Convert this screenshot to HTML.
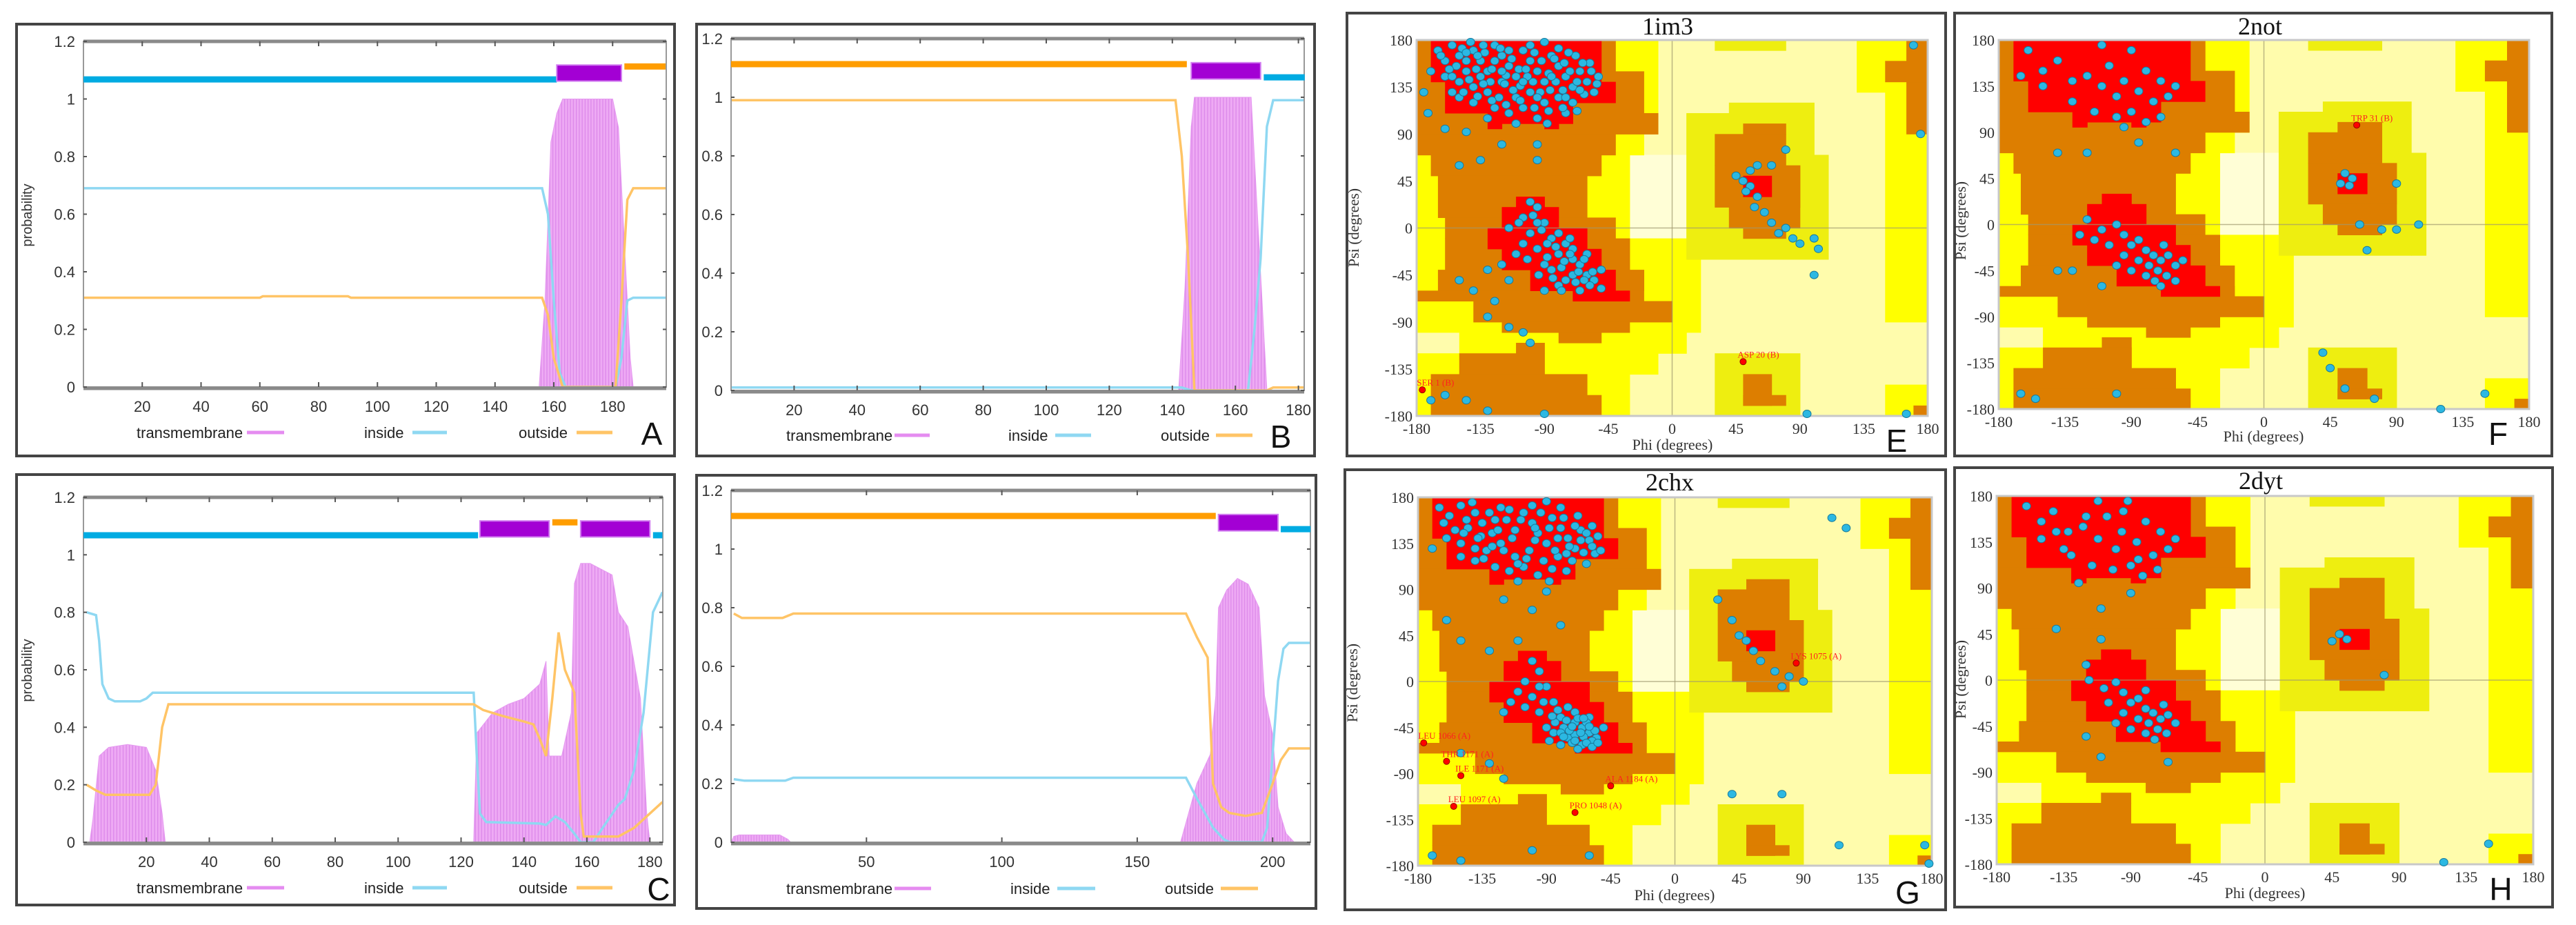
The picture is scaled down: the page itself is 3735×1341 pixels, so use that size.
<!DOCTYPE html>
<html><head><meta charset="utf-8"><style>
html,body{margin:0;padding:0;background:#fff;width:3735px;height:1341px;overflow:hidden}
svg{display:block}
.sans{font-family:"Liberation Sans",sans-serif}
.serif{font-family:"Liberation Serif",serif}
</style></head><body>
<svg id="fig" width="3735" height="1341" viewBox="0 0 3735 1341" xmlns="http://www.w3.org/2000/svg">
<defs>
<pattern id="tmpatA" patternUnits="userSpaceOnUse" width="4.26" height="10"><rect width="4.26" height="10" fill="#eeaaf4"/><rect width="1.3" height="10" fill="#dc88ea"/></pattern>
<pattern id="tmpatB" patternUnits="userSpaceOnUse" width="4.57" height="10"><rect width="4.57" height="10" fill="#eeaaf4"/><rect width="1.3" height="10" fill="#dc88ea"/></pattern>
<pattern id="tmpatC" patternUnits="userSpaceOnUse" width="4.56" height="10"><rect width="4.56" height="10" fill="#eeaaf4"/><rect width="1.3" height="10" fill="#dc88ea"/></pattern>
<pattern id="tmpatD" patternUnits="userSpaceOnUse" width="3.93" height="10"><rect width="3.93" height="10" fill="#eeaaf4"/><rect width="1.2" height="10" fill="#dc88ea"/></pattern>
</defs>
<rect x="24" y="35" width="954" height="626" fill="#fff" stroke="#444" stroke-width="4"/>
<rect x="1010" y="35" width="896" height="626" fill="#fff" stroke="#444" stroke-width="4"/>
<rect x="24" y="688" width="954" height="624" fill="#fff" stroke="#444" stroke-width="4"/>
<rect x="1010" y="689" width="898" height="628" fill="#fff" stroke="#444" stroke-width="4"/>
<rect x="1953" y="19" width="868" height="642" fill="#fff" stroke="#444" stroke-width="4"/>
<rect x="2834" y="19" width="866" height="642" fill="#fff" stroke="#444" stroke-width="4"/>
<rect x="1950" y="681" width="871" height="638" fill="#fff" stroke="#444" stroke-width="4"/>
<rect x="2834" y="678" width="867" height="637" fill="#fff" stroke="#444" stroke-width="4"/>
<g id="layer"></g>
<g class="sans" font-size="20" fill="#333">
<text x="46" y="312" transform="rotate(-90 46 312)" text-anchor="middle">probability</text>
<text x="46" y="972" transform="rotate(-90 46 972)" text-anchor="middle">probability</text>
</g>
<g class="sans" font-size="46" fill="#111">
<text x="945" y="645" text-anchor="middle">A</text>
<text x="1857" y="649" text-anchor="middle">B</text>
<text x="955" y="1305" text-anchor="middle">C</text>
<text x="2750" y="655" text-anchor="middle">E</text>
<text x="3622" y="645" text-anchor="middle">F</text>
<text x="2766" y="1310" text-anchor="middle">G</text>
<text x="3626" y="1305" text-anchor="middle">H</text>
</g>
<g class="serif" font-size="36" fill="#111" text-anchor="middle">
<text x="2418" y="50">1im3</text>
<text x="3277" y="50">2not</text>
<text x="2421" y="711">2chx</text>
<text x="3278" y="709">2dyt</text>
</g>
<g class="serif" font-size="22" fill="#333" text-anchor="middle">
<text x="2425" y="652">Phi (degrees)</text>
<text x="3282" y="640">Phi (degrees)</text>
<text x="2428" y="1305">Phi (degrees)</text>
<text x="3284" y="1302">Phi (degrees)</text>
<text x="1970" y="330" transform="rotate(-90 1970 330)">Psi (degrees)</text>
<text x="2850" y="320" transform="rotate(-90 2850 320)">Psi (degrees)</text>
<text x="1968" y="990" transform="rotate(-90 1968 990)">Psi (degrees)</text>
<text x="2850" y="985" transform="rotate(-90 2850 985)">Psi (degrees)</text>
</g>
</svg>
<script>
const aTM=[[0,0],[155,0],[157,0.3],[159,0.85],[161,0.95],[163,1],[180,1],[182,0.9],[184,0.5],[186,0.1],[187,0],[198,0]];
const aIn=[[0,0.69],[156,0.69],[158,0.6],[160,0.3],[162,0.05],[164,0],[181,0],[183,0.1],[185,0.3],[187,0.31],[198,0.31]];
const aOut=[[0,0.31],[60,0.31],[61,0.315],[90,0.315],[91,0.31],[156,0.31],[158,0.25],[160,0.1],[163,0],[181,0],[183,0.3],[185,0.65],[187,0.69],[198,0.69]];
const aBars=[['in',0,161],['tm',161,183],['out',184,198]];
const bTM=[[0,0],[142,0],[144,0.35],[146,0.9],[147,1],[165,1],[167,0.6],[169,0.2],[170,0],[182,0]];
const bIn=[[0,0.01],[143,0.01],[146,0],[164,0],[166,0.2],[168,0.45],[170,0.9],[172,0.99],[182,0.99]];
const bOut=[[0,0.99],[141,0.99],[143,0.8],[145,0.45],[147,0],[170,0],[172,0.01],[182,0.01]];
const bBars=[['out',0,144.6],['tm',146,168],['in',169,182]];
const cTM=[[0,0],[2,0],[3,0.08],[5,0.3],[8,0.33],[14,0.34],[20,0.33],[23,0.25],[25,0.1],[26,0],[124,0],[125,0.38],[130,0.45],[135,0.48],[140,0.5],[145,0.55],[147,0.63],[148,0.3],[152,0.3],[155,0.45],[156,0.9],[158,0.97],[161,0.97],[168,0.93],[170,0.8],[173,0.75],[177,0.5],[179,0.1],[180,0],[184,0]];
const cIn=[[1,0.8],[4,0.79],[5,0.7],[6,0.55],[8,0.5],[10,0.49],[18,0.49],[20,0.5],[22,0.52],[124,0.52],[125,0.3],[126,0.1],[128,0.07],[145,0.065],[147,0.06],[150,0.09],[153,0.07],[156,0.03],[158,0],[162,0],[165,0.05],[170,0.13],[172,0.15],[175,0.25],[178,0.45],[181,0.8],[184,0.87]];
const cOut=[[1,0.2],[4,0.18],[7,0.165],[21,0.165],[23,0.2],[25,0.4],[27,0.48],[124,0.48],[127,0.46],[133,0.44],[140,0.42],[143,0.41],[145,0.36],[147,0.3],[149,0.5],[151,0.73],[153,0.6],[156,0.52],[158,0.1],[159,0.02],[170,0.02],[175,0.05],[180,0.1],[184,0.14]];
const cBars=[['in',0,125.4],['tm',126,148],['out',149,157],['tm',158,180],['in',181,184]];
const dTM=[[0,0],[1,0.02],[3,0.025],[18,0.025],[21,0.01],[22,0],[166,0],[169,0.1],[172,0.2],[177,0.3],[179,0.5],[180,0.8],[183,0.86],[187,0.9],[191,0.88],[195,0.8],[197,0.5],[200,0.37],[202,0.12],[205,0.03],[208,0],[214,0]];
const dIn=[[1,0.215],[5,0.21],[20,0.21],[23,0.22],[168,0.22],[172,0.15],[178,0.05],[182,0.01],[184,0],[196,0],[198,0.05],[200,0.3],[202,0.55],[204,0.66],[206,0.68],[214,0.68]];
const dOut=[[1,0.78],[4,0.765],[19,0.765],[23,0.78],[168,0.78],[172,0.7],[176,0.63],[178,0.2],[181,0.12],[184,0.1],[190,0.09],[196,0.1],[200,0.2],[203,0.28],[206,0.32],[214,0.32]];
const dBars=[['out',0,179],['tm',180,202],['in',203,214]];
const xTicks20=[20,40,60,80,100,120,140,160,180];
const xTicks50=[50,100,150,200];
const yTicks=[0,0.2,0.4,0.6,0.8,1,1.2];
const yTickLabels=['0','0.2','0.4','0.6','0.8','1','1.2'];

const regPaleBox=[[-30,10,-10,70]];
const regYellow=[[-180,-10,90,180],[-180,-20,70,90],[-180,-30,-10,70],[-180,20,-100,-10],[-150,10,-120,-100],[-180,-10,-140,-120],[-180,-30,-180,-140],[130,180,130,180],[150,180,-90,130],[150,180,-180,-150]];
const regDark=[[10,100,-30,110],[40,100,110,120],[100,110,-30,70],[30,80,170,180],[30,90,-180,-120]];
const regBrown=[[-180,-40,150,180],[-180,-20,110,150],[-180,-10,90,110],[-180,-40,70,90],[-170,-50,50,70],[-165,-60,10,50],[-160,-40,-10,10],[-160,-30,-40,-10],[-165,-20,-60,-40],[-180,-20,-70,-60],[-140,0,-90,-70],[-120,-30,-100,-90],[-80,-50,-110,-100],[-110,-90,-120,-110],[-150,-90,-140,-120],[-170,-60,-160,-140],[-170,-50,-180,-160],[50,80,90,100],[30,80,60,90],[30,90,20,60],[40,90,0,20],[50,80,-10,0],[50,70,-170,-140],[50,80,-170,-160],[165,180,90,180],[150,180,140,160],[170,180,-180,-170]];
const regRed=[[-170,-50,140,180],[-160,-40,120,140],[-160,-70,110,120],[-130,-70,100,110],[-130,-120,95,100],[-90,-80,95,100],[-110,-90,20,30],[-120,-80,0,20],[-130,-60,-20,0],[-120,-50,-40,-20],[-100,-40,-60,-40],[-70,-30,-70,-60],[50,70,30,50]];
const ramaTicks=[-180,-135,-90,-45,0,45,90,135,180];

const ePts=[[-165,170],[-160,160],[-155,175],[-150,165],[-145,150],[-140,170],[-135,160],[-130,150],[-125,175],[-120,165],[-115,155],[-110,145],[-105,170],[-100,160],[-95,150],[-90,140],[-85,165],[-80,155],[-75,145],[-70,135],[-65,150],[-60,140],[-55,130],[-160,145],[-150,140],[-140,135],[-130,130],[-120,140],[-110,125],[-100,130],[-90,120],[-80,125],[-70,120],[-140,120],[-125,115],[-115,110],[-105,115],[-95,105],[-150,125],[-135,145],[-145,160],[-125,160],[-115,170],[-100,175],[-90,178],[-80,172],[-68,165],[-58,158],[-52,145],[-62,128],[-75,110],[-88,100],[-110,100],[-130,105],[-155,130],[-170,150],[-172,110],[-160,95],[-145,92],[-118,138],[-108,152],[-98,140],[-86,132],[-76,158],[-132,168],[-142,178],[-152,155],[-128,140],[-112,132],[-92,160],[-82,140],[-72,150],[-138,152],[-122,125],[-102,145],
[-163,165],[-157,152],[-148,172],[-143,142],[-137,165],[-133,138],[-127,152],[-121,172],[-117,146],[-113,162],[-107,136],[-103,152],[-97,168],[-93,130],[-87,148],[-83,162],[-77,132],[-73,168],[-67,140],[-63,158],[-57,150],[-53,138],[-147,130],[-137,126],[-127,122],[-117,118],[-107,122],[-97,115],[-87,112],[-77,115],[-67,112],[-155,145],[-145,168],[-133,175],[-120,150],[-105,140],[-95,125],[-85,145],[-75,125],[-65,132],
[-175,130],[-150,60],[-135,65],[-120,80],[-95,80],[-95,65],[-170,-165],[-160,-160],[-145,-165],[-130,-175],[-90,-178],[-130,-85],[-115,-95],[-105,-100],[-100,-110],[-150,-50],[-140,-60],[-125,-70],
[-100,25],[-95,20],[-105,10],[-90,5],[-115,0],[-100,-5],[-85,-10],[-75,-15],[-95,-20],[-80,-25],[-70,-30],[-65,-35],[-85,-40],[-60,-45],[-75,-50],[-55,-50],[-90,-35],[-105,-15],[-110,-25],[-70,-45],[-80,-55],[-65,-60],[-60,-25],[-50,-40],[-95,5],[-120,-35],[-130,-40],[-115,-50],[-90,-60],[-80,-5],[-70,-20],[-62,-30],[-58,-55],[-50,-58],[-88,-28],[-78,-38],[-68,-52],
[-98,12],[-92,-2],[-88,-15],[-82,-18],[-76,-32],[-72,-25],[-66,-42],[-62,-50],[-56,-42],[-84,-48],[-78,-60],[-94,-45],[-102,-30],[-108,5],[-72,-10],
[45,50],[50,45],[55,40],[52,35],[60,30],[58,20],[65,15],[70,5],[75,-5],[80,0],[85,-10],[90,-15],[100,-10],[103,-20],[60,60],[55,55],[80,75],[70,60],[100,-45],[95,-178],[165,-178],[170,175],[175,90]];
const fPts=[[-160,170],[-150,150],[-140,160],[-130,140],[-120,145],[-110,135],[-105,155],[-100,125],[-95,140],[-90,110],[-85,130],[-80,150],[-75,120],[-70,140],[-65,125],[-60,135],[-90,170],[-110,175],[-130,120],[-115,110],[-100,105],[-80,100],[-70,105],[-150,135],[-165,145],[-95,95],[-85,80],[-60,70],[-140,70],[-120,70],[-165,-165],[-155,-170],[-100,-165],
[-120,5],[-110,-5],[-100,0],[-95,-10],[-90,-20],[-85,-15],[-80,-25],[-75,-30],[-70,-35],[-78,-40],[-72,-45],[-68,-20],[-65,-30],[-60,-40],[-85,-35],[-95,-30],[-105,-20],[-115,-15],[-125,-10],[-80,-50],[-74,-55],[-66,-50],[-55,-35],[-90,-45],[-100,-40],[-140,-45],[-130,-45],[-110,-60],[-70,-60],[-60,-55],
[55,50],[52,40],[60,45],[58,38],[65,0],[80,-5],[105,0],[90,-5],[90,40],[70,-25],[45,-140],[55,-160],[75,-170],[120,-180],[150,-165],[40,-125]];
const gPts=[[-165,170],[-158,162],[-150,172],[-145,150],[-140,165],[-135,155],[-128,145],[-122,170],[-118,158],[-112,148],[-106,165],[-100,155],[-96,145],[-90,135],[-86,160],[-80,150],[-75,140],[-70,130],[-66,148],[-60,138],[-56,125],[-160,140],[-150,135],[-140,130],[-132,128],[-122,135],[-112,122],[-102,128],[-92,118],[-82,122],[-72,118],[-140,118],[-126,112],[-116,108],[-106,112],[-96,104],[-150,122],[-136,142],[-146,158],[-126,158],[-116,168],[-100,172],[-90,176],[-80,170],[-68,162],[-58,152],[-54,142],[-64,126],[-76,108],[-88,98],[-110,98],[-170,130],[-90,88],[-120,80],[-100,70],[-80,55],[-160,60],[-150,40],[-130,30],[-110,40],
[-162,155],[-154,148],[-142,175],[-138,140],[-130,165],[-124,148],[-120,128],[-114,140],[-108,158],[-104,120],[-98,138],[-94,165],[-88,150],[-84,128],[-78,160],[-74,132],[-70,152],[-62,145],[-58,132],[-52,128],[-134,120],[-110,115],[-86,110],[-62,115],[-148,145],[-128,132],[-98,150],[-82,140],[-76,125],[-66,138],
[-100,20],[-95,10],[-105,0],[-90,-5],[-110,-10],[-100,-15],[-85,-20],[-75,-25],[-95,-30],[-80,-35],[-70,-40],[-65,-45],[-85,-50],[-60,-50],[-75,-55],[-55,-55],[-90,-45],[-105,-25],[-115,-20],[-70,-52],[-80,-62],[-65,-62],[-60,-35],[-50,-45],[-95,-5],[-120,-30],[-70,-30],[-62,-40],[-58,-58],[-78,-45],[-72,-60],[-68,-36],[-84,-40],[-64,-54],[-74,-48],[-56,-48],[-88,-58],
[-76,-38],[-72,-44],[-66,-50],[-62,-60],[-68,-66],[-58,-64],[-54,-60],[-80,-50],[-86,-34],[-92,-20],[-82,-28],[-78,-54],[-70,-58],[-60,-44],[-64,-36],
[-150,-70],[-130,-80],[-120,-95],[-170,-170],[-150,-175],[-100,-165],[-60,-170],
[45,45],[50,40],[55,30],[60,20],[70,10],[80,5],[90,0],[40,60],[30,80],[75,-5],[110,160],[120,150],[115,-160],[40,-110],[75,-110],[175,-160],[178,-178]];
const hPts=[[-160,170],[-150,155],[-142,165],[-132,145],[-122,150],[-112,138],[-106,160],[-100,128],[-96,145],[-90,112],[-86,135],[-80,155],[-75,122],[-70,145],[-65,128],[-60,138],[-92,175],[-112,175],[-130,122],[-116,112],[-102,108],[-82,102],[-72,108],[-150,138],[-135,128],[-120,160],[-140,145],[-95,165],[-85,118],[-125,95],[-90,85],[-110,70],[-140,50],[-110,40],
[-118,0],[-108,-8],[-100,-2],[-95,-12],[-90,-22],[-85,-18],[-80,-28],[-75,-32],[-70,-38],[-78,-42],[-72,-48],[-68,-24],[-65,-34],[-60,-42],[-85,-38],[-95,-32],[-105,-22],[-80,-52],[-74,-58],[-66,-52],[-90,-48],[-100,-42],[-120,-55],[-110,-75],[-65,-80],[-120,15],[-80,-10],
[50,45],[45,38],[55,40],[80,5],[120,-178],[150,-160]];
const eOut=[[50,-128,'ASP 20 (B)'],[-176,-155,'SER 1 (B)']];
const fOut=[[63,97,'TRP 31 (B)']];
const gOut=[[-176,-60,'LEU 1066 (A)'],[-160,-78,'THR 1171 (A)'],[-150,-92,'ILE 1171 (A)'],[-45,-102,'ALA 1184 (A)'],[-155,-122,'LEU 1097 (A)'],[-70,-128,'PRO 1048 (A)'],[85,18,'LYS 1075 (A)']];
const hOut=[];

const NS='http://www.w3.org/2000/svg';
const layer=document.getElementById('layer');
function mk(tag,attrs,parent){const e=document.createElementNS(NS,tag);for(const k in attrs)e.setAttribute(k,attrs[k]);(parent||layer).appendChild(e);return e;}

function tmPanel(P,tm,inn,out,bars,ticks,pat,legY,leg){
  const X=r=>P.x0+r*P.sx, Y=v=>P.y0-v*P.sy;
  const g=mk('g',{});
  
  
  let d='M'+X(tm[0][0])+','+Y(0);
  tm.forEach(p=>{d+=' L'+X(p[0]).toFixed(1)+','+Y(p[1]).toFixed(1);});
  d+=' L'+X(tm[tm.length-1][0])+','+Y(0)+' Z';
  const a=mk('path',{d:d,fill:'url(#'+pat+')',stroke:'#e59af0','stroke-width':1},g);
  
  
  const line=(arr)=>arr.map(p=>X(p[0]).toFixed(1)+','+Y(p[1]).toFixed(1)).join(' ');
  const li=mk('polyline',{points:line(inn),fill:'none',stroke:'#8fd8f2','stroke-width':3.5},g);
  
  
  const lo=mk('polyline',{points:line(out),fill:'none',stroke:'#ffc466','stroke-width':3.5},g);
  
  
  const xr=P.xr, top=Y(1.2);
  const fr=mk('rect',{x:P.x0,y:top,width:xr-P.x0,height:P.y0-top,fill:'none',stroke:'#999','stroke-width':2},g);
  
  
  const tl=mk('line',{x1:P.x0,x2:xr,y1:top,y2:top,stroke:'#8a8a8a','stroke-width':5},g);
  
  
  const bl=mk('line',{x1:P.x0,x2:xr,y1:P.y0+2,y2:P.y0+2,stroke:'#8a8a8a','stroke-width':5},g);
  
  
  bars.forEach(b=>{
    if(b[0]==='tm'){
      const r=mk('rect',{x:X(b[1]),y:Y(1.118),width:X(b[2])-X(b[1]),height:Y(1.062)-Y(1.118),fill:'#a300d4',stroke:'#d27ff0','stroke-width':2},g);
      
      
    } else {
      const v=b[0]==='in'?1.068:1.113;
      const r=mk('line',{x1:X(b[1]),x2:X(b[2]),y1:Y(v),y2:Y(v),stroke:b[0]==='in'?'#00abe2':'#ff9d00','stroke-width':9},g);
      
      
    }
  });
  ticks.forEach(t=>{
    const tk=mk('line',{x1:X(t),x2:X(t),y1:top,y2:top+7,stroke:'#555','stroke-width':2},g);
    
    
    const tk2=mk('line',{x1:X(t),x2:X(t),y1:P.y0,y2:P.y0-7,stroke:'#555','stroke-width':2},g);
    
    
    const tx=mk('text',{x:X(t),y:P.y0+36,'text-anchor':'middle','font-size':22,fill:'#333',class:'sans'},g);
    tx.textContent=String(t);
    
    
  });
  yTicks.forEach((v,i)=>{
    const tk=mk('line',{x1:P.x0,x2:P.x0+5,y1:Y(v),y2:Y(v),stroke:'#555','stroke-width':2},g);
    
    
    const tk2=mk('line',{x1:xr,x2:xr-5,y1:Y(v),y2:Y(v),stroke:'#555','stroke-width':2},g);
    
    
    const tx=mk('text',{x:P.x0-12,y:Y(v)+8,'text-anchor':'end','font-size':22,fill:'#333',class:'sans'},g);
    tx.textContent=yTickLabels[i];
    
    
  });
  const items=[['transmembrane','#e58cf0'],['inside','#8fd8f2'],['outside','#ffc466']];
  items.forEach((it,i)=>{
    const L=leg[i];
    const t=mk('text',{x:L[0],y:legY+8,'font-size':22,fill:'#222',class:'sans'},g);
    t.textContent=it[0];
    
    
    const l=mk('line',{x1:L[1],x2:L[2],y1:legY,y2:legY,stroke:it[1],'stroke-width':5},g);
    
    
  });
}
tmPanel({x0:121,sx:4.2625,xr:966,y0:561,sy:417.5},aTM,aIn,aOut,aBars,xTicks20,'tmpatA',627,[[198,358,412],[528,598,648],[752,836,888]]);
tmPanel({x0:1060,sx:4.57,xr:1891,y0:566,sy:425},bTM,bIn,bOut,bBars,xTicks20,'tmpatB',631,[[1140,1297,1348],[1462,1530,1582],[1683,1763,1816]]);
tmPanel({x0:121,sx:4.5625,xr:961,y0:1221,sy:416.7},cTM,cIn,cOut,cBars,xTicks20,'tmpatC',1287,[[198,358,412],[528,598,648],[752,836,888]]);
tmPanel({x0:1060,sx:3.926,xr:1900,y0:1221,sy:425},dTM,dIn,dOut,dBars,xTicks50,'tmpatD',1288,[[1140,1297,1350],[1465,1533,1588],[1689,1770,1824]]);

function rama(R,pts,outl){
  const X=p=>R.l+(p+180)/360*(R.r-R.l), Y=s=>R.t+(180-s)/360*(R.b-R.t);
  const g=mk('g',{});
  
  
  const bg=mk('rect',{x:R.l,y:R.t,width:R.r-R.l,height:R.b-R.t,fill:'#fffcac'},g);
  
  
  const draw=(list,col,name)=>list.forEach(q=>{
    const r=mk('rect',{x:X(q[0]).toFixed(1),y:Y(q[3]).toFixed(1),width:(X(q[1])-X(q[0])+0.6).toFixed(1),height:(Y(q[2])-Y(q[3])+0.6).toFixed(1),fill:col},g);
    
    
  });
  draw(regPaleBox,'#fffed6','pale-region');
  draw(regYellow,'#ffff00','generously-allowed-region');
  draw(regDark,'#eeee10','glycine-allowed-region');
  draw(regBrown,'#dd7e00','allowed-region');
  draw(regRed,'#ff0000','core-region');
  const g1=mk('line',{x1:X(0),x2:X(0),y1:R.t,y2:R.b,stroke:'#a09a70','stroke-width':1.5,opacity:0.7},g);
  
  
  const g2=mk('line',{x1:R.l,x2:R.r,y1:Y(0),y2:Y(0),stroke:'#a09a70','stroke-width':1.5,opacity:0.7},g);
  
  
  const fr=mk('rect',{x:R.l,y:R.t,width:R.r-R.l,height:R.b-R.t,fill:'none',stroke:'#c8c8c8','stroke-width':3},g);
  
  
  ramaTicks.forEach(t=>{
    const tx=mk('text',{x:X(t),y:R.b+26,'text-anchor':'middle','font-size':22,fill:'#333',class:'serif'},g);
    tx.textContent=String(t);
    
    
    const ty=mk('text',{x:R.l-6,y:Y(t)+8,'text-anchor':'end','font-size':22,fill:'#333',class:'serif'},g);
    ty.textContent=String(t);
    
    
  });
  pts.forEach(p=>{
    const c=mk('ellipse',{cx:X(p[0]).toFixed(1),cy:Y(p[1]).toFixed(1),rx:6,ry:5.5,fill:'#2cb8e2',stroke:'#177a9c','stroke-width':1},g);
    
    
  });
  outl.forEach(o=>{
    const c=mk('circle',{cx:X(o[0]),cy:Y(o[1]),r:4.5,fill:'#ff0000',stroke:'#900','stroke-width':1},g);
    
    
    const t=mk('text',{x:X(o[0])-8,y:Y(o[1])-6,'font-size':13,fill:'#ff2020',class:'serif'},g);
    t.textContent=o[2];
    
    
  });
}
rama({l:2054,r:2795,t:58,b:603},ePts,eOut);
rama({l:2898,r:3667,t:58,b:593},fPts,fOut);
rama({l:2056,r:2801,t:721,b:1255},gPts,gOut);
rama({l:2895,r:3673,t:719,b:1253},hPts,hOut);
</script>
</body></html>
